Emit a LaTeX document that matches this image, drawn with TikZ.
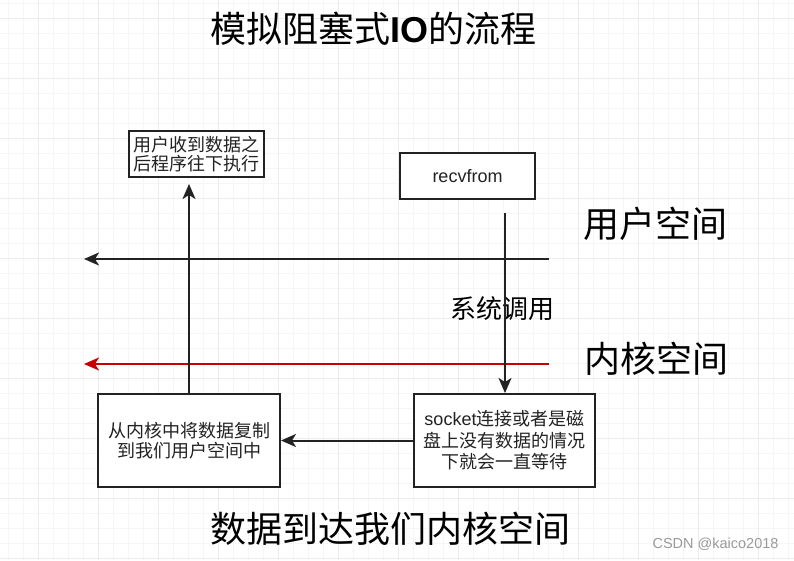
\documentclass[tikz,border=0pt]{standalone}
\usepackage{fontspec}
\setmainfont{Noto Sans CJK SC}
\newfontfamily\lat{Liberation Sans}
\usetikzlibrary{arrows.meta}
\definecolor{gridminor}{HTML}{F6F6F6}
\definecolor{gridmajor}{HTML}{ECECEC}
\definecolor{linecol}{HTML}{222222}
\definecolor{redline}{HTML}{C80000}
\definecolor{wmcol}{HTML}{9A9A9A}
\definecolor{txtcol}{HTML}{222222}
\begin{document}
\begin{tikzpicture}[x=1pt,y=-1pt,
  box/.style={draw=linecol,line width=2pt,rectangle,inner sep=0pt,align=center,fill=white,text=txtcol},
  conn/.style={draw=linecol,line width=2pt,-{Stealth[length=15pt,width=13pt,inset=4pt]}},
  redconn/.style={conn,draw=redline,-{Stealth[length=15pt,width=13pt,inset=4pt,color=redline]}},
  bigtext/.style={font=\fontsize{36}{40}\selectfont,inner sep=0pt},
  boxtext/.style={font=\fontsize{18}{19.5}\selectfont},
]
\useasboundingbox (0,0) rectangle (794,560);
\fill[white] (0,0) rectangle (794,560);
% grid
\foreach \x in {8.3,23.3,...,794} \draw[gridminor,line width=1pt] (\x,0) -- (\x,560);
\foreach \y in {3.3,18.3,...,560} \draw[gridminor,line width=1pt] (0,\y) -- (794,\y);
\foreach \x in {38.3,98.3,...,794} \draw[gridmajor,line width=1pt] (\x,0) -- (\x,560);
\foreach \y in {18.3,78.3,...,560} \draw[gridmajor,line width=1pt] (0,\y) -- (794,\y);

% title
\node[bigtext] (title) at (373.5,29) {模拟阻塞式{\lat\bfseries IO}的流程};

% boxes
\node[box,boxtext,minimum width=135pt,minimum height=46pt] (done) at (196.5,154)
  {用户收到数据之\\后程序往下执行};
\node[box,font=\lat\fontsize{18}{20}\selectfont,minimum width=135pt,minimum height=46pt] (recv) at (467.5,176) {recvfrom};
\node[box,font=\fontsize{18}{20.6}\selectfont,minimum width=182pt,minimum height=93pt] (copy) at (189,440.5)
  {从内核中将数据复制\\到我们用户空间中};
\node[box,font=\fontsize{18}{21.5}\selectfont,minimum width=181pt,minimum height=93pt] (sock) at (504.5,440.5)
  {{\lat socket}连接或者是磁\\盘上没有数据的情况\\下就会一直等待};

% labels
\node[bigtext] (user) at (655,224) {用户空间};
\node[bigtext] (kern) at (656,359) {内核空间};
\node[font=\fontsize{26}{30}\selectfont,inner sep=0pt] (sys) at (502,309) {系统调用};
\node[bigtext] (arrive) at (390,529) {数据到达我们内核空间};
\node[font=\lat\fontsize{14.5}{16}\selectfont,text=wmcol,inner sep=0pt] (wm) at (715.5,544) {CSDN @kaico2018};

% coordinates
\coordinate (uR) at (549,259);
\coordinate (uL) at (84,259);
\coordinate (kR) at (549,364);
\coordinate (kL) at (84,364);
\coordinate (sysTop) at (505,213);
\coordinate (upTip) at (189,184);

% connectors
\draw[conn] (uR) -- (uL);
\draw[redconn] (kR) -- (kL);
\draw[conn] (sysTop) -- (sysTop |- sock.north);
\draw[conn] (sock.west) -- (copy.east);
\draw[conn] (copy.north) -- (upTip);
\end{tikzpicture}
\end{document}
